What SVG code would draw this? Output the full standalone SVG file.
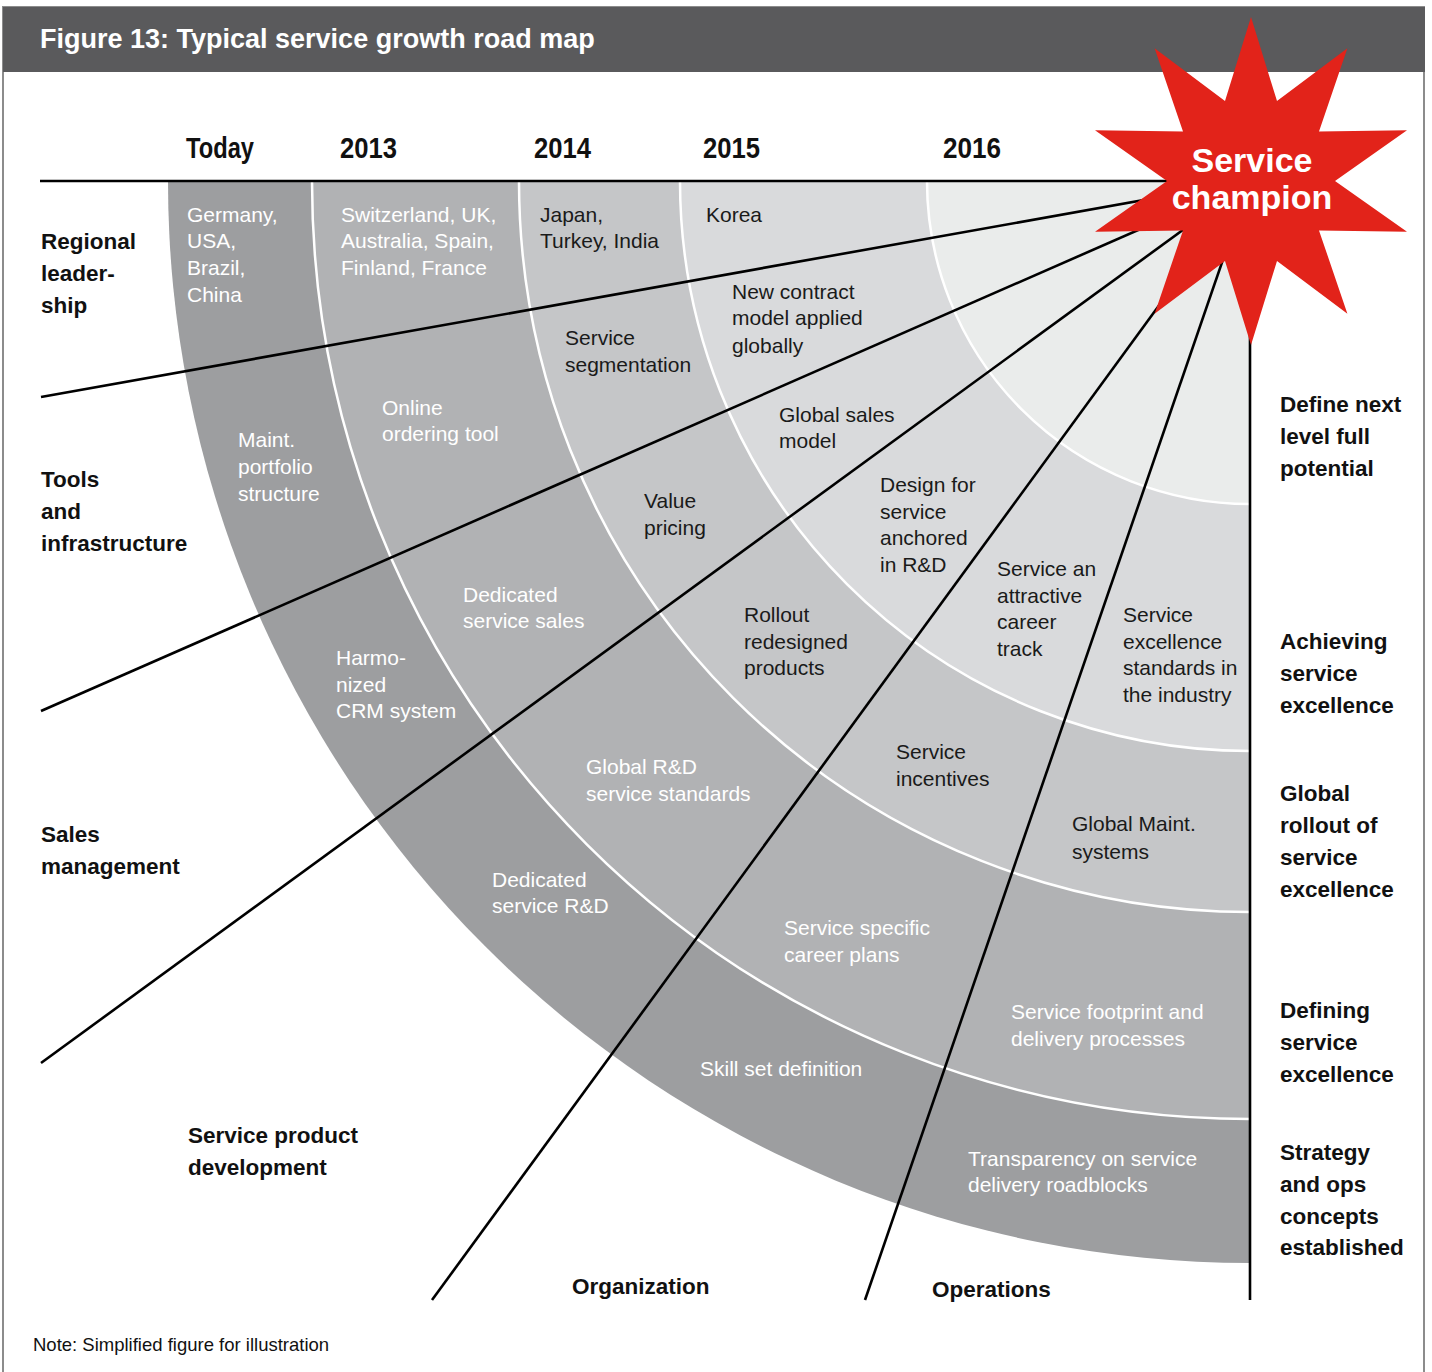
<svg xmlns="http://www.w3.org/2000/svg" width="1432" height="1372" viewBox="0 0 1432 1372">
<style>
text{font-family:"Liberation Sans",Arial,sans-serif}
.rw{fill:#ffffff;font-size:21px}
.rk{fill:#1a1a1a;font-size:21px}
.lb{fill:#111111;font-size:22.5px;font-weight:bold}
.yr{fill:#111111;font-size:29px;font-weight:bold}
.sep{fill:none;stroke:#ffffff;stroke-width:2.5}
.ln{fill:none;stroke:#000000;stroke-width:2.6;stroke-linecap:butt}
</style>
<rect x="0" y="0" width="1432" height="1372" fill="#ffffff"/>
<rect x="3" y="7" width="1421" height="1370" fill="#ffffff" stroke="#8c8c8c" stroke-width="2"/>
<rect x="3" y="7" width="1422" height="65" fill="#5a5a5c"/>
<text x="40" y="48" fill="#ffffff" font-size="27" font-weight="bold">Figure 13: Typical service growth road map</text>

<g id="rings">
<path d="M1250,181 L168,181 A1082,1082 0 0 0 1250,1263 Z" fill="#9d9ea0"/>
<path d="M1250,181 L312,181 A938,938 0 0 0 1250,1119 Z" fill="#b1b2b4"/>
<path d="M1250,181 L519,181 A731,731 0 0 0 1250,912 Z" fill="#c5c6c8"/>
<path d="M1250,181 L680,181 A570,570 0 0 0 1250,751 Z" fill="#d9dadc"/>
<path d="M1250,181 L927,181 A323,323 0 0 0 1250,504 Z" fill="#eaeceb"/>
<path class="sep" d="M312,181 A938,938 0 0 0 1250,1119"/>
<path class="sep" d="M519,181 A731,731 0 0 0 1250,912"/>
<path class="sep" d="M680,181 A570,570 0 0 0 1250,751"/>
<path class="sep" d="M927,181 A323,323 0 0 0 1250,504"/>
</g>

<g id="connectors">
<line class="ln" x1="40" y1="181" x2="1250" y2="181"/>
<line class="ln" x1="41" y1="397" x2="1250" y2="181"/>
<line class="ln" x1="41" y1="711" x2="1250" y2="181"/>
<line class="ln" x1="41" y1="1063" x2="1250" y2="181"/>
<line class="ln" x1="432" y1="1300" x2="1250" y2="181"/>
<line class="ln" x1="865" y1="1300" x2="1250" y2="181"/>
<line class="ln" x1="1250" y1="181" x2="1250" y2="1300" stroke-width="3"/>
</g>

<g id="star">
<polygon fill="#e2231a" points="1251,17 1277,101.1 1347.4,48.3 1319,131.6 1407,130.3 1335,181 1407,231.7 1319,230.4 1347.4,313.7 1277,260.9 1251,345 1225,260.9 1154.6,313.7 1183,230.4 1095,231.7 1167,181 1095,130.3 1183,131.6 1154.6,48.3 1225,101.1"/>
<text x="1252" y="172" fill="#ffffff" font-size="34" font-weight="bold" text-anchor="middle">Service</text>
<text x="1252" y="209" fill="#ffffff" font-size="34" font-weight="bold" text-anchor="middle">champion</text>
</g>

<g id="years">
<text class="yr" x="186" y="158" textLength="68" lengthAdjust="spacingAndGlyphs">Today</text>
<text class="yr" x="340" y="158" textLength="57" lengthAdjust="spacingAndGlyphs">2013</text>
<text class="yr" x="534" y="158" textLength="57" lengthAdjust="spacingAndGlyphs">2014</text>
<text class="yr" x="703" y="158" textLength="57" lengthAdjust="spacingAndGlyphs">2015</text>
<text class="yr" x="943" y="158" textLength="58" lengthAdjust="spacingAndGlyphs">2016</text>
</g>

<g id="ring-today">
<text class="rw"><tspan x="187" y="222">Germany,</tspan><tspan x="187" y="248">USA,</tspan><tspan x="187" y="275">Brazil,</tspan><tspan x="187" y="302">China</tspan></text>
<text class="rw"><tspan x="238" y="447">Maint.</tspan><tspan x="238" y="474">portfolio</tspan><tspan x="238" y="501">structure</tspan></text>
<text class="rw"><tspan x="336" y="665">Harmo-</tspan><tspan x="336" y="692">nized</tspan><tspan x="336" y="718">CRM system</tspan></text>
<text class="rw"><tspan x="492" y="887">Dedicated</tspan><tspan x="492" y="913">service R&amp;D</tspan></text>
<text class="rw" x="700" y="1076">Skill set definition</text>
<text class="rw"><tspan x="968" y="1166">Transparency on service</tspan><tspan x="968" y="1192">delivery roadblocks</tspan></text>
</g>

<g id="ring-2013">
<text class="rw"><tspan x="341" y="222">Switzerland, UK,</tspan><tspan x="341" y="248">Australia, Spain,</tspan><tspan x="341" y="275">Finland, France</tspan></text>
<text class="rw"><tspan x="382" y="415">Online</tspan><tspan x="382" y="441">ordering tool</tspan></text>
<text class="rw"><tspan x="463" y="602">Dedicated</tspan><tspan x="463" y="628">service sales</tspan></text>
<text class="rw"><tspan x="586" y="774">Global R&amp;D</tspan><tspan x="586" y="801">service standards</tspan></text>
<text class="rw"><tspan x="784" y="935">Service specific</tspan><tspan x="784" y="962">career plans</tspan></text>
<text class="rw"><tspan x="1011" y="1019">Service footprint and</tspan><tspan x="1011" y="1046">delivery processes</tspan></text>
</g>

<g id="ring-2014">
<text class="rk"><tspan x="540" y="222">Japan,</tspan><tspan x="540" y="248">Turkey, India</tspan></text>
<text class="rk"><tspan x="565" y="345">Service</tspan><tspan x="565" y="372">segmentation</tspan></text>
<text class="rk"><tspan x="644" y="508">Value</tspan><tspan x="644" y="535">pricing</tspan></text>
<text class="rk"><tspan x="744" y="622">Rollout</tspan><tspan x="744" y="649">redesigned</tspan><tspan x="744" y="675">products</tspan></text>
<text class="rk"><tspan x="896" y="759">Service</tspan><tspan x="896" y="786">incentives</tspan></text>
<text class="rk"><tspan x="1072" y="831">Global Maint.</tspan><tspan x="1072" y="859">systems</tspan></text>
</g>

<g id="ring-2015">
<text class="rk" x="706" y="222">Korea</text>
<text class="rk"><tspan x="732" y="299">New contract</tspan><tspan x="732" y="325">model applied</tspan><tspan x="732" y="353">globally</tspan></text>
<text class="rk"><tspan x="779" y="422">Global sales</tspan><tspan x="779" y="448">model</tspan></text>
<text class="rk"><tspan x="880" y="492">Design for</tspan><tspan x="880" y="519">service</tspan><tspan x="880" y="545">anchored</tspan><tspan x="880" y="572">in R&amp;D</tspan></text>
<text class="rk"><tspan x="997" y="576">Service an</tspan><tspan x="997" y="603">attractive</tspan><tspan x="997" y="629">career</tspan><tspan x="997" y="656">track</tspan></text>
<text class="rk"><tspan x="1123" y="622">Service</tspan><tspan x="1123" y="649">excellence</tspan><tspan x="1123" y="675">standards in</tspan><tspan x="1123" y="702">the industry</tspan></text>
</g>

<g id="dimension-labels">
<text class="lb"><tspan x="41" y="249">Regional</tspan><tspan x="41" y="281">leader-</tspan><tspan x="41" y="313">ship</tspan></text>
<text class="lb"><tspan x="41" y="487">Tools</tspan><tspan x="41" y="519">and</tspan><tspan x="41" y="551">infrastructure</tspan></text>
<text class="lb"><tspan x="41" y="842">Sales</tspan><tspan x="41" y="874">management</tspan></text>
<text class="lb"><tspan x="188" y="1143">Service product</tspan><tspan x="188" y="1175">development</tspan></text>
<text class="lb" x="572" y="1294">Organization</text>
<text class="lb" x="932" y="1297">Operations</text>
</g>

<g id="phase-labels">
<text class="lb"><tspan x="1280" y="412">Define next</tspan><tspan x="1280" y="444">level full</tspan><tspan x="1280" y="476">potential</tspan></text>
<text class="lb"><tspan x="1280" y="649">Achieving</tspan><tspan x="1280" y="681">service</tspan><tspan x="1280" y="713">excellence</tspan></text>
<text class="lb"><tspan x="1280" y="801">Global</tspan><tspan x="1280" y="833">rollout of</tspan><tspan x="1280" y="865">service</tspan><tspan x="1280" y="897">excellence</tspan></text>
<text class="lb"><tspan x="1280" y="1018">Defining</tspan><tspan x="1280" y="1050">service</tspan><tspan x="1280" y="1082">excellence</tspan></text>
<text class="lb"><tspan x="1280" y="1160">Strategy</tspan><tspan x="1280" y="1192">and ops</tspan><tspan x="1280" y="1224">concepts</tspan><tspan x="1280" y="1255">established</tspan></text>
</g>

<text x="33" y="1351" fill="#111111" font-size="18.5">Note: Simplified figure for illustration</text>
</svg>
